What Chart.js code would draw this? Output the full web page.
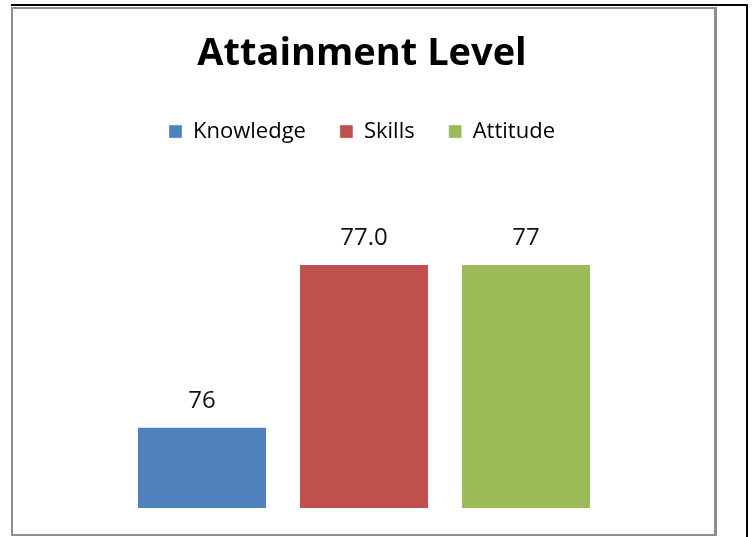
<!DOCTYPE html>
<html>
<head>
<meta charset="utf-8">
<script src="https://cdn.jsdelivr.net/npm/chart.js@4/dist/chart.umd.min.js"></script>
<style>
  html, body { margin: 0; padding: 0; background: #fff; }
  #wrap { position: relative; width: 752px; height: 537px; }
</style>
</head>
<body>
<div id="wrap"><canvas id="c" width="752" height="537"></canvas></div>
<script>
// ---- data ----
const categories = ['Attainment Level'];
const seriesNames = ['Knowledge', 'Skills', 'Attitude'];
const knowledgeValues = [76];
const skillsValues = [77.0];
const attitudeValues = [77];
const valueLabels = [['76'], ['77.0'], ['77']];
const seriesColors = ['#4F81BD', '#C0504D', '#9BBB59'];
const yMin = 75.5;
const yMax = 77.5;

const frame = {
  id: 'frame',
  beforeDraw(chart) {
    const ctx = chart.ctx;
    ctx.save();
    ctx.fillStyle = '#fff';
    ctx.fillRect(0, 0, chart.width, chart.height);
    ctx.fillStyle = '#000';
    ctx.fillRect(11, 4, 737, 2);
    ctx.fillRect(746, 4, 2, 533);
    ctx.fillStyle = '#8e8e8e';
    ctx.fillRect(11, 7, 706, 2);
    ctx.fillRect(11, 7, 2, 529);
    ctx.fillRect(11, 534, 706, 2);
    ctx.fillRect(714, 7, 3, 529);
    ctx.restore();
  }
};

const legendGap = {
  id: 'legendGap',
  beforeInit(chart) {
    const lg = chart.legend;
    if (!lg) return;
    const orig = lg.fit;
    lg.fit = function () {
      orig.call(this);
      this.height += 30;
    };
  }
};

const dataLabels = {
  id: 'dataLabels',
  afterDatasetsDraw(chart) {
    const ctx = chart.ctx;
    ctx.save();
    ctx.font = '24px "Open Sans"';
    ctx.fillStyle = '#111';
    ctx.textAlign = 'center';
    ctx.textBaseline = 'alphabetic';
    chart.data.datasets.forEach((ds, di) => {
      const meta = chart.getDatasetMeta(di);
      meta.data.forEach((bar, i) => {
        ctx.fillText(valueLabels[di][i], bar.x, bar.y - 19);
      });
    });
    ctx.restore();
  }
};

const valueSets = [knowledgeValues, skillsValues, attitudeValues];

new Chart(document.getElementById('c'), {
  type: 'bar',
  data: {
    labels: categories,
    datasets: seriesNames.map((name, i) => ({
      label: name,
      data: valueSets[i],
      backgroundColor: seriesColors[i],
      borderColor: 'rgba(255,255,255,0.35)',
      borderWidth: 1,
      barPercentage: 130 / 162,
      categoryPercentage: 1.0
    }))
  },
  options: {
    responsive: false,
    animation: false,
    layout: { padding: { left: 117, right: 145, top: 0, bottom: 29 } },
    scales: {
      x: { display: false },
      y: {
        display: true,
        min: yMin,
        max: yMax,
        ticks: { display: false },
        grid: { display: false },
        border: { display: false },
        afterFit(scale) { scale.width = 4; }
      }
    },
    plugins: {
      title: {
        display: true,
        text: 'Attainment Level',
        color: '#000',
        font: { family: 'Open Sans', size: 38, weight: 'bold', lineHeight: 1.2 },
        padding: { top: 31, bottom: 10 }
      },
      legend: {
        display: true,
        position: 'top',
        labels: {
          color: '#000',
          font: { family: 'Open Sans', size: 22 },
          boxWidth: 13,
          boxHeight: 13,
          padding: 34
        }
      },
      tooltip: { enabled: false }
    }
  },
  plugins: [frame, legendGap, dataLabels]
});
</script>
</body>
</html>
